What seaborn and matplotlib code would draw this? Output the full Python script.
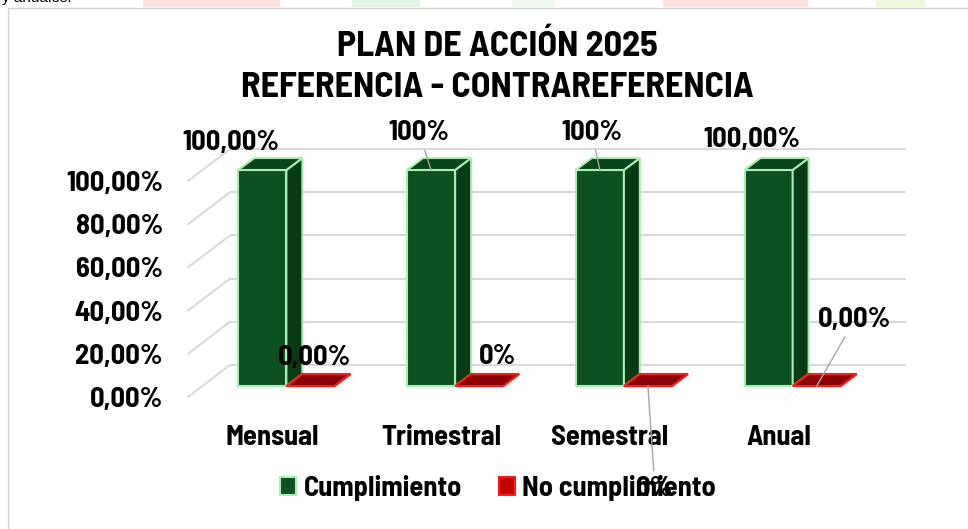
import numpy as np
import pandas as pd
import seaborn as sns
import matplotlib
matplotlib.use('Agg')
import matplotlib.pyplot as plt
from matplotlib.patches import Polygon, Patch, Rectangle
from matplotlib.transforms import ScaledTranslation, IdentityTransform

# ---- data ----
periodos = ['Mensual', 'Trimestral', 'Semestral', 'Anual']
cumplimiento = [1.0, 1.0, 1.0, 1.0]
no_cumplimiento = [0.0, 0.0, 0.0, 0.0]
decimales_cumpl = [2, 0, 0, 2]      # how each data label is written
decimales_no = [2, 0, 0, 2]
series = ['Cumplimiento', 'No cumplimiento']
y_ticks = [0.0, 0.2, 0.4, 0.6, 0.8, 1.0]
titulo = ['PLAN DE ACCIÓN 2025', 'REFERENCIA - CONTRAREFERENCIA']

def pct(v, d):
    return f"{v * 100:.{d}f}".replace('.', ',') + '%'

df = pd.DataFrame({
    'periodo': periodos * 2,
    'valor': cumplimiento + no_cumplimiento,
    'serie': [series[0]] * 4 + [series[1]] * 4,
})

sns.set_style('white')
plt.rcParams['font.family'] = ['Barlow Semi Condensed', 'DejaVu Sans']
plt.rcParams['font.weight'] = 'bold'
plt.rcParams['text.color'] = 'black'
plt.rcParams['xtick.color'] = 'black'
plt.rcParams['ytick.color'] = 'black'

W, H, DPI = 968, 529, 100
FS = 20.5
fig = plt.figure(figsize=(W / DPI, H / DPI), dpi=DPI)
ax = fig.add_axes([188 / W, 132 / H, 675 / W, 216 / H])

GREEN, GREEN_SIDE, GREEN_TOP, GREEN_EDGE = '#0e5120', '#083a13', '#0a4419', '#a8eeb2'
RED, RED_EDGE = '#8b0000', '#ff1a1a'

sns.barplot(data=df, x='periodo', y='valor', hue='serie', palette=[GREEN, RED],
            width=0.57, gap=0, saturation=1, ax=ax, legend=False,
            edgecolor=GREEN_EDGE, linewidth=1.5, zorder=3)
ax.set_xlim(-0.5, 3.5)
ax.set_ylim(0, 1)

def shift(dx, dy):
    return ax.transData + ScaledTranslation(dx / DPI, dy / DPI, fig.dpi_scale_trans)

# pseudo 3D: bars sit a bit behind the front plane, back wall further back
BAR_OFF = (14, 11)
DEPTH = (16, 12)
WALL = (42, 32)
bar_trans = shift(*BAR_OFF)
pix = IdentityTransform()

# back-wall gridlines plus the diagonal lines of the left wall
for t in y_ticks:
    ax.plot([-0.5, 3.5], [t, t], color='#d9d9d9', lw=1.5, transform=shift(*WALL),
            zorder=1, clip_on=False)
    p0 = ax.transData.transform((-0.5, t))
    ax.add_line(plt.Line2D([p0[0], p0[0] + WALL[0]], [p0[1], p0[1] + WALL[1]],
                           transform=pix, color='#d9d9d9', lw=1.5, zorder=1, clip_on=False))

for cont, (face, side, top, edge) in zip(ax.containers,
                                         [(GREEN, GREEN_SIDE, GREEN_TOP, GREEN_EDGE),
                                          (RED, RED, RED, RED_EDGE)]):
    for bar in cont:
        bar.set_transform(bar_trans)
        bar.set_edgecolor(edge)
        bar.set_clip_on(False)
        x0, y0 = bar_trans.transform((bar.get_x(), bar.get_y()))
        x1, y1 = bar_trans.transform((bar.get_x() + bar.get_width(), bar.get_y() + bar.get_height()))
        dx, dy = DEPTH
        ax.add_patch(Polygon([(x1, y0), (x1 + dx, y0 + dy), (x1 + dx, y1 + dy), (x1, y1)],
                             closed=True, transform=pix, facecolor=side, edgecolor=edge,
                             lw=1.5, zorder=3, clip_on=False))
        ax.add_patch(Polygon([(x0, y1), (x1, y1), (x1 + dx, y1 + dy), (x0 + dx, y1 + dy)],
                             closed=True, transform=pix, facecolor=top, edgecolor=edge,
                             lw=1.5, zorder=3, clip_on=False))

# data labels (offsets in pixels from the bar's top front centre)
off_cumpl = [(-31, 27), (-12, 37), (-8, 37), (-17, 30)]
lead_cumpl = [False, True, True, False]
off_no = [(4, 29), (18, 30), (7, -102), (38, 66)]
lead_no = [False, False, True, True]
label_font = dict(fontsize=FS, fontweight='bold', color='black')
for i, bar in enumerate(ax.containers[0]):
    xc = bar.get_x() + bar.get_width() / 2
    ax.annotate(pct(cumplimiento[i], decimales_cumpl[i]), xy=(xc, cumplimiento[i]),
                xycoords=bar_trans, xytext=off_cumpl[i], textcoords='offset pixels',
                ha='center', va='center', zorder=6, annotation_clip=False,
                arrowprops=dict(arrowstyle='-', color='#a6a6a6', lw=1, shrinkA=1, shrinkB=0)
                if lead_cumpl[i] else None, **label_font)
for i, bar in enumerate(ax.containers[1]):
    xc = bar.get_x() + bar.get_width() / 2
    ax.annotate(pct(no_cumplimiento[i], decimales_no[i]), xy=(xc, no_cumplimiento[i]),
                xycoords=bar_trans, xytext=off_no[i], textcoords='offset pixels',
                ha='center', va='center', zorder=6, annotation_clip=False,
                arrowprops=dict(arrowstyle='-', color='#a6a6a6', lw=1, shrinkA=1, shrinkB=0)
                if lead_no[i] else None, **label_font)

ax.set_yticks(y_ticks)
ax.set_yticklabels([pct(t, 2) for t in y_ticks])
ax.tick_params(axis='y', length=0, pad=18, labelsize=FS)
ax.tick_params(axis='x', length=0, pad=20, labelsize=FS)
ax.set_xlabel('')
ax.set_ylabel('')
sns.despine(ax=ax, left=True, bottom=True)
ax.patch.set_alpha(0)

# two title lines
for linea, yc in zip(titulo, [47, 88]):
    fig.text(497 / W, 1 - yc / H, linea, ha='center', va='center', fontsize=26,
             fontweight='bold')

handles = [Patch(facecolor=GREEN, edgecolor=GREEN_EDGE, lw=1.5),
           Patch(facecolor='#c00000', edgecolor=RED_EDGE, lw=1.5)]
fig.legend(handles, series, loc='center', bbox_to_anchor=(498 / W, 41 / H), ncol=2,
           frameon=False, fontsize=FS, handlelength=0.56, handleheight=0.56,
           handletextpad=0.25, columnspacing=1.3)

# chart frame and the strip of the page above it
fig.add_artist(Rectangle((8 / W, -0.01), 1, (H - 8) / H + 0.01, transform=fig.transFigure,
                         fill=False, edgecolor='#d0d0d0', lw=1, zorder=0))
for x0, x1, c in [(143, 280, '#fde0e0'), (352, 420, '#e4f4e4'), (512, 555, '#eef8ee'),
                  (663, 808, '#fde0e0'), (876, 925, '#eef6dc')]:
    fig.add_artist(Rectangle((x0 / W, 1 - 7 / H), (x1 - x0) / W, 7 / H,
                             transform=fig.transFigure, color=c, lw=0, zorder=0))
fig.text(2 / W, 1 - 2 / H, 'y anuales.', fontsize=11, fontweight='normal',
         family=['Liberation Sans', 'DejaVu Sans'], va='baseline', ha='left')

fig.savefig('out.png', dpi=DPI, facecolor='white')
